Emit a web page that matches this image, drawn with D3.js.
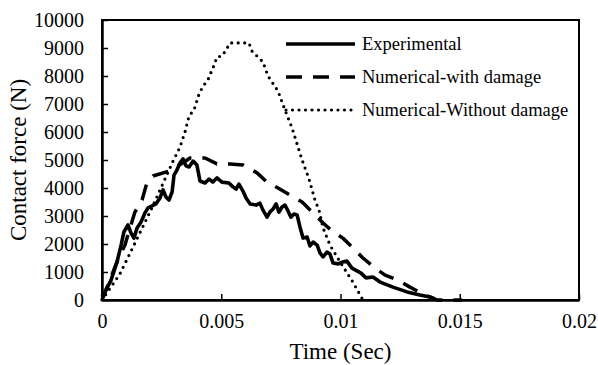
<!DOCTYPE html>
<html>
<head>
<meta charset="utf-8">
<script src="https://cdn.jsdelivr.net/npm/d3@7"></script>
<style>
  body { margin: 0; background: #fff; }
  svg, svg text { font-family: "Liberation Serif", "Times New Roman", Times, "DejaVu Serif", serif !important; }
</style>
</head>
<body>
<svg id="chart" width="598" height="365"></svg>
<script>
// time (s) / contact force (N)
const expTime = [0, 0.00017, 0.00038, 0.00063, 0.0008, 0.00092, 0.00109, 0.00122, 0.00134, 0.00147,
  0.00164, 0.0018, 0.00193, 0.0021, 0.00226, 0.00243, 0.00256, 0.00268, 0.00281, 0.00294,
  0.00302, 0.00314, 0.00327, 0.0034, 0.00352, 0.00365, 0.00382, 0.00398, 0.00411, 0.00432,
  0.00449, 0.00465, 0.00482, 0.00503, 0.00532, 0.00549, 0.00562, 0.00574, 0.00591, 0.00604,
  0.00621, 0.00646, 0.00662, 0.00675, 0.00692, 0.00704, 0.00717, 0.0073, 0.00742, 0.00755,
  0.00767, 0.0078, 0.00792, 0.00805, 0.00818, 0.0083, 0.00843, 0.0086, 0.00872, 0.00885,
  0.00902, 0.00914, 0.00927, 0.00943, 0.00956, 0.00969, 0.0099, 0.0101, 0.01027, 0.01048,
  0.01069, 0.01086, 0.01107, 0.01136, 0.01166, 0.0122, 0.01279, 0.01333, 0.01375, 0.01396];
const expForce = [110, 360, 710, 1360, 1960, 2430, 2680, 2390, 2210, 2570,
  2790, 3110, 3290, 3360, 3430, 3640, 3930, 3680, 3570, 3860,
  4460, 4640, 4890, 5040, 4790, 4750, 4960, 4820, 4250, 4180,
  4320, 4210, 4360, 4210, 4180, 4040, 3960, 4140, 3890, 3640,
  3430, 3390, 3460, 3210, 2960, 3140, 3250, 3430, 3140, 3320,
  3390, 3180, 2960, 3070, 3040, 2610, 2210, 2250, 1930, 2070,
  1960, 1680, 1540, 1710, 1640, 1320, 1290, 1360, 1390, 1140,
  1040, 960, 790, 820, 640, 460, 290, 180, 110, 40];

const dmgTime = [0, 0.00063, 0.00096, 0.00138, 0.00168, 0.00189, 0.00214, 0.0028, 0.0034, 0.00369,
  0.00432, 0.00482, 0.00537, 0.00591, 0.0065, 0.00692, 0.00738, 0.00788, 0.00839, 0.00885,
  0.00927, 0.00969, 0.0101, 0.01061, 0.01094, 0.01145, 0.01187, 0.01241, 0.01291, 0.01354,
  0.01405, 0.0151];
const dmgForce = [0, 1360, 1960, 3140, 3570, 4210, 4430, 4600, 4900, 5070,
  5070, 4860, 4860, 4820, 4540, 4210, 4000, 3750, 3500, 3110,
  2750, 2430, 2210, 1790, 1500, 1140, 890, 710, 460, 180,
  0, 0];

const noDmgTime = [0, 0.00075, 0.00126, 0.0021, 0.00298, 0.00327, 0.00348, 0.00365, 0.00386, 0.00407,
  0.00424, 0.00444, 0.0047, 0.00482, 0.00503, 0.0052, 0.00537, 0.00616, 0.00629, 0.00675,
  0.00696, 0.00738, 0.00767, 0.00797, 0.00839, 0.00868, 0.00893, 0.0091, 0.00927, 0.00956,
  0.00998, 0.01052, 0.01094];
const noDmgForce = [0, 930, 1820, 3300, 4960, 5460, 6000, 6570, 6790, 7360,
  7640, 7860, 8390, 8680, 8710, 8930, 9180, 9180, 8890, 8500,
  8000, 7460, 6790, 6140, 5000, 4320, 3570, 3210, 2570, 1960,
  1360, 640, 0];

const xTicks = [0, 0.005, 0.01, 0.015, 0.02];
const xTickLabels = ["0", "0.005", "0.01", "0.015", "0.02"];
const yTicks = d3.range(0, 10001, 1000);

const seriesNames = ["Experimental", "Numerical-with damage", "Numerical-Without damage"];

const svg = d3.select("#chart");
const margin = { left: 102, right: 19, top: 20, bottom: 65 };
const W = 598, H = 365;

const x = d3.scaleLinear().domain([0, 0.02]).range([margin.left, W - margin.right]);
const y = d3.scaleLinear().domain([0, 10000]).range([H - margin.bottom, margin.top]);

// frame
svg.append("rect")
    .attr("x", x(0)).attr("y", y(10000))
    .attr("width", x(0.02) - x(0)).attr("height", y(0) - y(10000))
    .attr("fill", "none").attr("stroke", "#000").attr("stroke-width", 2)

// axes with ticks pointing inward
const xAxis = svg.append("g")
    .attr("transform", `translate(0,${y(0)})`)
    .call(d3.axisBottom(x).tickValues(xTicks).tickFormat((d, i) => xTickLabels[i]).tickSizeInner(-6).tickSizeOuter(0).tickPadding(14))
xAxis.attr("font-family", null)
xAxis.select(".domain").attr("stroke-width", 2.5)
xAxis.selectAll(".tick line").attr("stroke-width", 1.5)
xAxis.selectAll("text").attr("font-size", 20).attr("fill", "#000")

const yAxis = svg.append("g")
    .attr("transform", `translate(${x(0)},0)`)
    .call(d3.axisLeft(y).tickValues(yTicks).tickFormat(d3.format("d")).tickSizeInner(-6).tickSizeOuter(0).tickPadding(18))
yAxis.attr("font-family", null)
yAxis.select(".domain").attr("stroke-width", 2.5)
yAxis.selectAll(".tick line").attr("stroke-width", 1.5)
yAxis.selectAll("text").attr("font-size", 20).attr("fill", "#000")

// axis titles
svg.append("text")
    .attr("x", (x(0) + x(0.02)) / 2).attr("y", 359)
    .attr("text-anchor", "middle").attr("font-size", 23)
    .text("Time (Sec)")

svg.append("text")
    .attr("transform", `translate(26,${(y(0) + y(10000)) / 2}) rotate(-90)`)
    .attr("text-anchor", "middle").attr("font-size", 23)
    .text("Contact force (N)")

// lines
const line = d3.line().x(d => x(d[0])).y(d => y(d[1]));
const styles = [
    { width: 3.6, dash: null, cap: "butt" },
    { width: 3.5, dash: "16,11", cap: "butt" },
    { width: 3.2, dash: "0,6.5", cap: "round" }
];
const series = [
    d3.zip(expTime, expForce),
    d3.zip(dmgTime, dmgForce),
    d3.zip(noDmgTime, noDmgForce)
];

const plot = svg.append("g")
series.forEach((s, i) => {
    plot.append("path")
        .datum(s)
        .attr("d", line)
        .attr("fill", "none")
        .attr("stroke", "#000")
        .attr("stroke-width", styles[i].width)
        .attr("stroke-dasharray", styles[i].dash)
        .attr("stroke-linecap", styles[i].cap)
        .attr("stroke-linejoin", "round")
})

// legend
const legend = svg.append("g")
const legendY = [44, 77, 110];
seriesNames.forEach((name, i) => {
    legend.append("line")
        .attr("x1", 286).attr("x2", 355)
        .attr("y1", legendY[i]).attr("y2", legendY[i])
        .attr("stroke", "#000")
        .attr("stroke-width", styles[i].width)
        .attr("stroke-dasharray", styles[i].dash)
        .attr("stroke-linecap", styles[i].cap)
    legend.append("text")
        .attr("x", 362).attr("y", legendY[i])
        .attr("dy", "0.35em")
        .attr("font-size", 18.5)
        .text(name)
})
</script>
</body>
</html>
